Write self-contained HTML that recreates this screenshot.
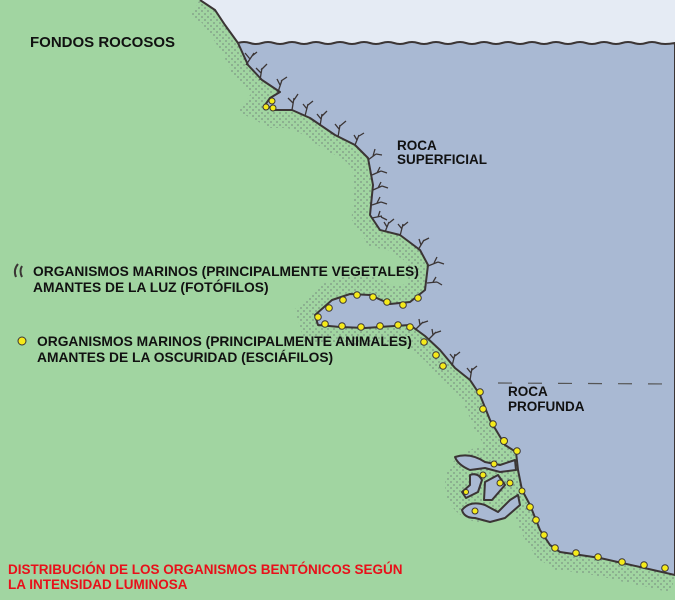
<!DOCTYPE html>
<html><head><meta charset="utf-8"><style>
body{margin:0;width:675px;height:600px;overflow:hidden;background:#a1d5a1;}
svg{display:block}
text{font-family:"Liberation Sans",sans-serif;font-weight:bold;}
</style></head><body>
<svg width="675" height="600" viewBox="0 0 675 600" xmlns="http://www.w3.org/2000/svg">
<defs>
<pattern id="st" width="6" height="6" patternUnits="userSpaceOnUse">
<circle cx="1" cy="2" r="0.6" fill="#556"/><circle cx="4" cy="5" r="0.6" fill="#556"/>
</pattern>
</defs>
<rect width="675" height="600" fill="#a1d5a1"/>
<path d="M200,0 L215,10 L225,25 L238,43 L248,65 L262,80 L280,92 L270,98 L265,105 L275,110 L292,110 L310,118 L335,135 L355,145 L368,158 L373,185 L370,215 L380,230 L400,235 L420,250 L428,265 L425,290 L410,302 L390,304 L370,295 L350,294 L332,300 L315,315 L318,325 L340,327 L365,328 L410,325 L425,336 L440,350 L455,368 L470,380 L480,395 L490,420 L505,445 L516,452 L518,470 L522,490 L530,505 L540,530 L550,545 L560,552 L600,558 L640,567 L675,575" fill="none" stroke="url(#st)" stroke-width="36"/>
<ellipse cx="485" cy="485" rx="40" ry="38" fill="url(#st)"/>
<path d="M200,0 L215,10 L225,25 L238,43 Q244,41 250,43 T262,43 T274,43 T286,43 T298,43 T310,43 T322,43 T334,43 T346,43 T358,43 T370,43 T382,43 T394,43 T406,43 T418,43 T430,43 T442,43 T454,43 T466,43 T478,43 T490,43 T502,43 T514,43 T526,43 T538,43 T550,43 T562,43 T574,43 T586,43 T598,43 T610,43 T622,43 T634,43 T646,43 T658,43 T675,43 L675,0 Z" fill="#e5ebf4"/>
<path d="M238,43 Q244,41 250,43 T262,43 T274,43 T286,43 T298,43 T310,43 T322,43 T334,43 T346,43 T358,43 T370,43 T382,43 T394,43 T406,43 T418,43 T430,43 T442,43 T454,43 T466,43 T478,43 T490,43 T502,43 T514,43 T526,43 T538,43 T550,43 T562,43 T574,43 T586,43 T598,43 T610,43 T622,43 T634,43 T646,43 T658,43 T675,43 L675,575 L640,567 L600,558 L560,552 L550,545 L540,530 L530,505 L522,490 L518,470 L516,452 L505,445 L490,420 L480,395 L470,380 L455,368 L440,350 L425,336 L410,325 L365,328 L340,327 L318,325 L315,315 L332,300 L350,294 L370,295 L390,304 L410,302 L425,290 L428,265 L420,250 L400,235 L380,230 L370,215 L373,185 L368,158 L355,145 L335,135 L310,118 L292,110 L275,110 L265,105 L270,98 L280,92 L262,80 L248,65 Z" fill="#a9b9d3" stroke="#3b3535" stroke-width="2" stroke-linejoin="round"/>
<path d="M200,0 L215,10 L225,25 L238,43" fill="none" stroke="#3b3535" stroke-width="2"/>
<!-- cave channels -->
<g fill="#a9b9d3" stroke="#3b3535" stroke-width="2" stroke-linejoin="round">
<path d="M455,457 Q470,452 485,462 L500,465 L515,460 L516,470 L500,472 L485,468 L470,470 Q458,465 455,457 Z"/>
<path d="M470,475 Q478,472 482,480 L478,492 L466,498 L462,492 L470,485 Z"/>
<path d="M485,482 L498,475 L505,485 L492,500 L484,500 Z"/>
<path d="M462,510 Q470,500 485,505 L498,512 L510,500 L518,495 L520,505 L505,518 L490,522 L475,518 Q464,518 462,510 Z"/>
</g>
<!-- algae -->
<g stroke="#3b3535" stroke-width="1.3" fill="none">
<path d="M246,65 l8,-12 m-4,6 l-5,-6 m7,3 l5,-4"/>
<path d="M260,80 l2,-12 m-1,5 l-5,-5 m5,2 l6,-6"/>
<path d="M278,92 l4,-12 m-2,5 l-3,-6 m4,2 l6,-4"/>
<path d="M292,110 l2,-12 m-1,5 l-5,-5 m6,2 l4,-6"/>
<path d="M305,116 l3,-12 m-1,5 l-4,-5 m5,1 l5,-4"/>
<path d="M320,126 l2,-12 m-1,5 l-4,-5 m5,2 l5,-5"/>
<path d="M338,137 l2,-12 m-1,4 l-4,-5 m5,2 l6,-5"/>
<path d="M355,145 l4,-10 m-2,5 l-3,-5 m5,1 l5,-3"/>
<path d="M368,160 l8,-6 m-3,2 l2,-7 m1,5 l6,1"/>
<path d="M372,175 l9,-4 m-4,2 l3,-6 m1,4 l6,2"/>
<path d="M373,190 l9,-4 m-4,2 l3,-6 m1,4 l6,2"/>
<path d="M372,205 l9,-3 m-4,1 l3,-6 m1,5 l6,2"/>
<path d="M372,218 l10,-2 m-4,1 l2,-6 m1,6 l6,3"/>
<path d="M385,232 l4,-10 m-2,5 l-3,-5 m5,1 l5,-4"/>
<path d="M400,236 l3,-12 m-1,5 l-4,-5 m5,2 l5,-4"/>
<path d="M418,250 l6,-10 m-3,5 l-2,-6 m4,2 l6,-3"/>
<path d="M428,266 l10,-4 m-4,1 l3,-6 m1,5 l6,2"/>
<path d="M427,283 l10,-1 m-4,0 l3,-5 m1,5 l5,3"/>
<path d="M415,330 l8,-8 m-3,3 l-1,-6 m3,4 l6,-2"/>
<path d="M428,340 l8,-8 m-3,3 l-1,-6 m3,4 l6,-2"/>
<path d="M452,366 l3,-12 m-1,5 l-4,-5 m5,2 l5,-4"/>
<path d="M470,380 l2,-12 m-1,5 l-4,-5 m5,2 l5,-4"/>
</g>
<g stroke="#3b3535" stroke-width="2" fill="none">
<path d="M18,264 q-5,6 -2,13"/><path d="M22,266 q-3,5 0,11"/>
</g>
<!-- yellow dots -->
<g fill="#f5ea1a" stroke="#3b3535" stroke-width="1">
<circle cx="272" cy="101" r="3"/><circle cx="266" cy="107" r="3"/><circle cx="273" cy="108" r="3"/>
<circle cx="357" cy="295" r="3.3"/><circle cx="373" cy="297" r="3.3"/><circle cx="387" cy="302" r="3.3"/><circle cx="403" cy="305" r="3.3"/><circle cx="418" cy="298" r="3.3"/><circle cx="343" cy="300" r="3.3"/><circle cx="329" cy="308" r="3.3"/>
<circle cx="318" cy="317" r="3.3"/><circle cx="325" cy="324" r="3.3"/><circle cx="342" cy="326" r="3.3"/><circle cx="361" cy="327" r="3.3"/><circle cx="380" cy="326" r="3.3"/><circle cx="398" cy="325" r="3.3"/><circle cx="410" cy="327" r="3.3"/>
<circle cx="424" cy="342" r="3.3"/><circle cx="436" cy="355" r="3.3"/><circle cx="443" cy="366" r="3.3"/>
<circle cx="480" cy="392" r="3.3"/><circle cx="483" cy="409" r="3.3"/><circle cx="493" cy="424" r="3.3"/><circle cx="504" cy="441" r="3.5"/><circle cx="517" cy="451" r="3.3"/>
<circle cx="494" cy="464" r="3"/><circle cx="483" cy="475" r="3"/><circle cx="500" cy="483" r="3"/><circle cx="510" cy="483" r="3"/><circle cx="522" cy="491" r="3"/><circle cx="466" cy="492" r="2.5"/><circle cx="475" cy="511" r="3"/>
<circle cx="530" cy="507" r="3.3"/><circle cx="536" cy="520" r="3.3"/><circle cx="544" cy="535" r="3.3"/><circle cx="555" cy="548" r="3.3"/><circle cx="576" cy="553" r="3.3"/><circle cx="598" cy="557" r="3.3"/><circle cx="622" cy="562" r="3.3"/><circle cx="644" cy="565" r="3.3"/><circle cx="665" cy="568" r="3.3"/>
<circle cx="22" cy="341" r="4"/>
</g>
<line x1="498" y1="383" x2="675" y2="384" stroke="#555" stroke-width="1.2" stroke-dasharray="14,16"/>
<g fill="#111">
<text x="30" y="47" font-size="15">FONDOS ROCOSOS</text>
<text x="397" y="150" font-size="13.5">ROCA</text>
<text x="397" y="164" font-size="13.5">SUPERFICIAL</text>
<text x="508" y="396" font-size="13.5">ROCA</text>
<text x="508" y="411" font-size="13.5">PROFUNDA</text>
<text x="33" y="276" font-size="13.8">ORGANISMOS MARINOS (PRINCIPALMENTE VEGETALES)</text>
<text x="33" y="292" font-size="13.8">AMANTES DE LA LUZ (FOTÓFILOS)</text>
<text x="37" y="346" font-size="13.8">ORGANISMOS MARINOS (PRINCIPALMENTE ANIMALES)</text>
<text x="37" y="362" font-size="13.8">AMANTES DE LA OSCURIDAD (ESCIÁFILOS)</text>
<text x="8" y="574" font-size="13.5" fill="#e8101a">DISTRIBUCIÓN DE LOS ORGANISMOS BENTÓNICOS SEGÚN</text>
<text x="8" y="589" font-size="13.5" fill="#e8101a">LA INTENSIDAD LUMINOSA</text>
</g>
</svg>
</body></html>
